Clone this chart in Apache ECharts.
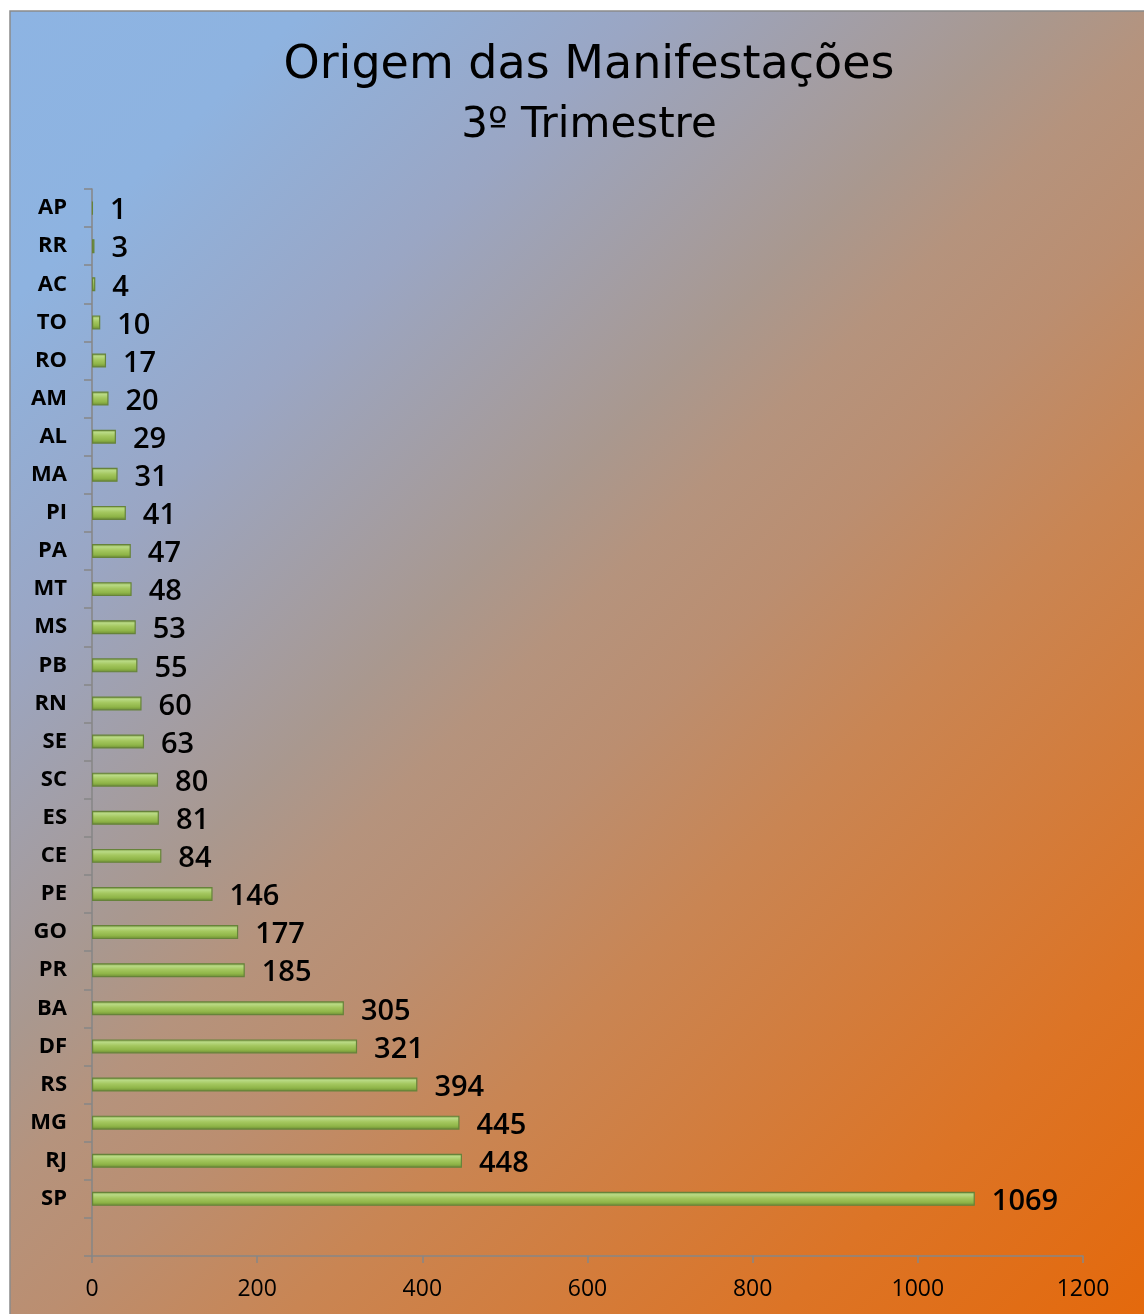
<!DOCTYPE html>
<html>
<head>
<meta charset="utf-8">
<script src="https://cdn.jsdelivr.net/npm/echarts@6/dist/echarts.min.js"></script>
<style>
  html, body { margin: 0; padding: 0; background: #fff; }
  #chart { width: 1144px; height: 1314px; }
</style>
</head>
<body>
<div id="chart"></div>
<script>
// estados, de cima para baixo (a última linha do Excel ficou vazia)
var estados = ["AP", "RR", "AC", "TO", "RO", "AM", "AL", "MA", "PI", "PA", "MT", "MS", "PB", "RN",
    "SE", "SC", "ES", "CE", "PE", "GO", "PR", "BA", "DF", "RS", "MG", "RJ", "SP", ""];
var manifestacoes = [1, 3, 4, 10, 17, 20, 29, 31, 41, 47, 48, 53, 55, 60,
    63, 80, 81, 84, 146, 177, 185, 305, 321, 394, 445, 448, 1069, null];
var eixoX = {min: 0, max: 1200, interval: 200};

var chart = echarts.init(document.getElementById("chart"));

var fundo = new echarts.graphic.LinearGradient(10, 11, 1228.5, 1229.5, [
    {offset: 0, color: "#8db4e3"},
    {offset: 0.12, color: "#8eb3e0"},
    {offset: 0.26, color: "#9aa6c4"},
    {offset: 0.42, color: "#a9988f"},
    {offset: 0.48, color: "#b5937d"},
    {offset: 0.55, color: "#bb8e70"},
    {offset: 0.65, color: "#c98553"},
    {offset: 0.85, color: "#dc7426"},
    {offset: 1, color: "#e4690c"}
], true);

var barra = new echarts.graphic.LinearGradient(0, 0, 0, 1, [
    {offset: 0, color: "#7a9940"},
    {offset: 0.2, color: "#b9da85"},
    {offset: 0.45, color: "#a4c75f"},
    {offset: 0.75, color: "#8fb548"},
    {offset: 1, color: "#6a8933"}
]);

chart.setOption({
    animation: false,
    graphic: [{
        type: "rect",
        silent: true,
        z: -10,
        shape: {x: 10, y: 11, width: 1136, height: 1305},
        style: {fill: fundo, stroke: "#8a8a8a", lineWidth: 1.5}
    }],
    title: {
        text: "Origem das Manifestações",
        subtext: "3º Trimestre",
        left: 584,
        top: 38,
        textAlign: "center",
        itemGap: 16,
        textStyle: {fontFamily: "DejaVu Sans", fontSize: 46, fontWeight: "normal", color: "#000"},
        subtextStyle: {fontFamily: "DejaVu Sans", fontSize: 42, color: "#000"}
    },
    grid: {left: 92, right: 61, top: 189, bottom: 58, containLabel: false},
    xAxis: {
        type: "value",
        min: eixoX.min,
        max: eixoX.max,
        interval: eixoX.interval,
        splitLine: {show: false},
        axisLine: {show: true, lineStyle: {color: "#868686", width: 1.5}},
        axisTick: {show: true, length: 7, lineStyle: {color: "#868686", width: 1.5}},
        axisLabel: {
            fontFamily: "Open Sans", fontSize: 23, color: "#000", margin: 22,
            formatter: function (v) { return String(v); }
        }
    },
    yAxis: {
        type: "category",
        data: estados,
        inverse: true,
        axisLine: {show: true, lineStyle: {color: "#868686", width: 1.5}},
        axisTick: {show: true, length: 8, lineStyle: {color: "#868686", width: 1.5}},
        axisLabel: {
            fontFamily: "Open Sans", fontSize: 22, fontWeight: "bold", color: "#000", margin: 25,
            padding: [3, 0, 0, 0]
        }
    },
    series: [{
        type: "bar",
        data: manifestacoes,
        barWidth: 14,
        itemStyle: {color: barra, borderColor: "#66833a", borderWidth: 1.2},
        label: {
            show: true,
            position: "right",
            distance: 17,
            offset: [0, 3],
            fontFamily: "Open Sans",
            fontSize: 29,
            fontWeight: 600,
            color: "#000"
        }
    }]
});
</script>
</body>
</html>
